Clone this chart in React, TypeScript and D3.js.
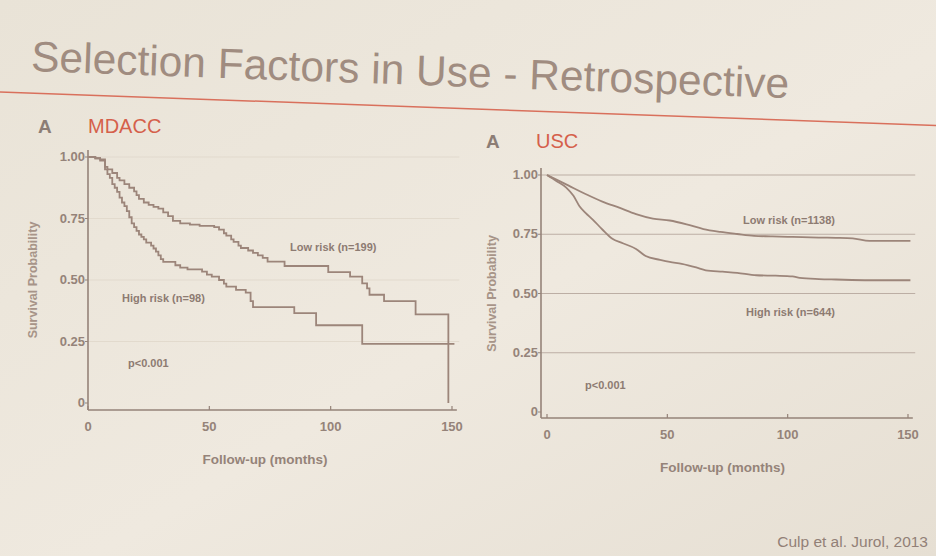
import React, { useEffect, useRef } from 'react';
import * as d3 from 'd3';

// survival curves: [months, probability]
const mdaccLow: [number, number][] = [
  [0, 1], [3, 0.995], [5, 0.985], [7, 0.96], [8, 0.95], [10, 0.935], [12, 0.915], [13, 0.905],
  [15, 0.89], [17, 0.875], [19, 0.86], [20, 0.845], [21, 0.83], [23, 0.815], [25, 0.805],
  [27, 0.797], [29, 0.79], [31, 0.775], [33, 0.76], [35, 0.74], [38, 0.73], [42, 0.725],
  [46, 0.72], [52, 0.715], [54, 0.705], [56, 0.69], [57, 0.68], [59, 0.665], [60, 0.655],
  [62, 0.64], [63, 0.63], [66, 0.62], [68, 0.61], [70, 0.6], [72, 0.59], [74, 0.575],
  [81, 0.557], [99, 0.532], [108, 0.514], [113, 0.486], [115, 0.466], [116, 0.44],
  [122, 0.414], [135, 0.36], [148.5, 0],
];
const mdaccHigh: [number, number][] = [
  [0, 1], [3, 0.995], [5, 0.99], [7, 0.95], [8, 0.93], [9, 0.915], [10, 0.89], [11, 0.875],
  [12, 0.858], [13, 0.835], [14, 0.815], [15, 0.8], [16, 0.78], [17, 0.755], [18, 0.73],
  [19, 0.715], [20, 0.7], [21, 0.685], [22, 0.675], [23, 0.665], [24, 0.652], [26, 0.64],
  [27, 0.628], [28, 0.615], [29, 0.6], [30, 0.585], [31, 0.574], [36, 0.56], [38, 0.55],
  [41, 0.543], [47, 0.534], [49, 0.522], [51, 0.514], [54, 0.5], [56, 0.485], [57, 0.473],
  [61, 0.46], [65, 0.449], [67, 0.414], [68, 0.39], [85, 0.365], [94, 0.316], [113, 0.24],
  [151, 0.24],
];
const uscLow: [number, number][] = [
  [0, 1], [5, 0.975], [9, 0.955], [16, 0.92], [23, 0.888], [30, 0.862], [37, 0.835],
  [44, 0.816], [51, 0.808], [58, 0.792], [65, 0.772], [72, 0.76], [79, 0.751], [86, 0.743],
  [93, 0.741], [100, 0.739], [106, 0.738], [113, 0.736], [120, 0.735], [127, 0.733],
  [134, 0.722], [151, 0.722],
];
const uscHigh: [number, number][] = [
  [0, 1], [4, 0.974], [8, 0.947], [11, 0.912], [13.5, 0.868], [16, 0.84], [19, 0.812],
  [23, 0.77], [27, 0.732], [31.5, 0.712], [37, 0.688], [41, 0.658], [47, 0.642], [51, 0.633],
  [56, 0.625], [62, 0.61], [66, 0.598], [73, 0.592], [79, 0.587], [87, 0.577], [95, 0.575],
  [102, 0.572], [105, 0.566], [113, 0.561], [120, 0.559], [134, 0.556], [151, 0.556],
];

const xTicks = [0, 50, 100, 150];
const yTicks = [0, 0.25, 0.5, 0.75, 1];
const yTickLabels = ['0', '0.25', '0.50', '0.75', '1.00'];

const INK = '#958379';
const CURVE = '#9c857a';
const RED = '#d5604b';
const FONT = '"Liberation Sans", Arial, sans-serif';
const NARROW = '"Liberation Sans Narrow", "Arial Narrow", "Liberation Sans", sans-serif';

interface PanelSpec {
  label: string;
  low: [number, number][];
  high: [number, number][];
  lowText: string;
  highText: string;
  stepped: boolean;
  x0: number; x1: number; y0: number; y1: number;
  axisGapX: number; axisGapY: number;
  grid: string;
  lowPos: [number, number];
  highPos: [number, number];
  pPos: [number, number];
  headY: number;
  headX: number;
  yLabelX: number;
}

const panels: PanelSpec[] = [
  {
    label: 'MDACC', low: mdaccLow, high: mdaccHigh,
    lowText: 'Low risk (n=199)', highText: 'High risk (n=98)', stepped: true,
    x0: 88, x1: 452, y0: 403, y1: 157, axisGapX: 0, axisGapY: 7,
    grid: '#e2dacd',
    lowPos: [290, 251], highPos: [122, 302], pPos: [128, 367],
    headY: 133, headX: 38, yLabelX: 37,
  },
  {
    label: 'USC', low: uscLow, high: uscHigh,
    lowText: 'Low risk (n=1138)', highText: 'High risk (n=644)', stepped: false,
    x0: 547, x1: 908, y0: 412, y1: 175, axisGapX: 6, axisGapY: 6,
    grid: '#bcaea4',
    lowPos: [743, 224], highPos: [746, 316], pPos: [585, 389],
    headY: 148, headX: 486, yLabelX: 496,
  },
];

const App: React.FC = () => {
  const ref = useRef<SVGSVGElement | null>(null);

  useEffect(() => {
    if (!ref.current) return;
    const svg = d3.select(ref.current);
    svg.selectAll('*').remove();

    const defs = svg.append('defs');
    const grad = defs.append('linearGradient').attr('id', 'bg')
      .attr('x1', '0').attr('y1', '0').attr('x2', '1').attr('y2', '1');
    grad.append('stop').attr('offset', '0%').attr('stop-color', '#e9e3d7');
    grad.append('stop').attr('offset', '55%').attr('stop-color', '#efe9df');
    grad.append('stop').attr('offset', '100%').attr('stop-color', '#e6dfd3');
    svg.append('rect').attr('width', 936).attr('height', 556).attr('fill', 'url(#bg)');

    // title + red rule (slide photographed at a slight angle)
    const head = svg.append('g').attr('transform', 'rotate(2.05 0 92)');
    head.append('text')
      .attr('x', 30).attr('y', 70)
      .attr('font-family', FONT).attr('font-size', 42.5)
      .attr('fill', '#a08c80')
      .text('Selection Factors in Use - Retrospective');
    head.append('line')
      .attr('x1', -10).attr('x2', 960).attr('y1', 92).attr('y2', 92)
      .attr('stroke', '#d9705c').attr('stroke-width', 1.5);

    panels.forEach((p) => {
      const x = d3.scaleLinear().domain([0, 150]).range([p.x0, p.x1]);
      const y = d3.scaleLinear().domain([0, 1]).range([p.y0, p.y1]);
      const g = svg.append('g');
      const axisX = x(0) - p.axisGapX;
      const axisY = y(0) + p.axisGapY;

      // panel heading
      g.append('text').attr('x', p.headX).attr('y', p.headY)
        .attr('font-family', FONT).attr('font-weight', 'bold').attr('font-size', 19)
        .attr('fill', '#8c7d75').text('A');
      g.append('text').attr('x', p.headX + 50).attr('y', p.headY)
        .attr('font-family', NARROW).attr('font-size', 20)
        .attr('fill', RED).text(p.label);

      // gridlines
      g.selectAll('line.grid').data(yTicks.filter((t) => t > 0)).join('line')
        .attr('class', 'grid')
        .attr('x1', axisX).attr('x2', x(153))
        .attr('y1', (d) => y(d)).attr('y2', (d) => y(d))
        .attr('stroke', p.grid).attr('stroke-width', 1.2);

      // axes
      g.append('line').attr('x1', axisX).attr('x2', axisX)
        .attr('y1', y(1) - 7).attr('y2', axisY)
        .attr('stroke', INK).attr('stroke-width', 1.6);
      g.append('line').attr('x1', axisX).attr('x2', x(152))
        .attr('y1', axisY).attr('y2', axisY)
        .attr('stroke', INK).attr('stroke-width', 1.6);
      g.selectAll('line.xt').data(xTicks).join('line').attr('class', 'xt')
        .attr('x1', (d) => x(d)).attr('x2', (d) => x(d))
        .attr('y1', axisY - 4).attr('y2', axisY)
        .attr('stroke', INK).attr('stroke-width', 1.2);
      g.selectAll('line.yt').data(yTicks).join('line').attr('class', 'yt')
        .attr('x1', axisX - 3).attr('x2', axisX)
        .attr('y1', (d) => y(d)).attr('y2', (d) => y(d))
        .attr('stroke', INK).attr('stroke-width', 1);

      g.selectAll('text.xl').data(xTicks).join('text').attr('class', 'xl')
        .attr('x', (d) => x(d)).attr('y', axisY + 21)
        .attr('text-anchor', 'middle')
        .attr('font-family', FONT).attr('font-weight', 'bold').attr('font-size', 13)
        .attr('fill', INK).text((d) => String(d));
      g.selectAll('text.yl').data(yTicks).join('text').attr('class', 'yl')
        .attr('x', axisX - 3).attr('y', (d) => y(d) + 4)
        .attr('text-anchor', 'end')
        .attr('font-family', FONT).attr('font-weight', 'bold').attr('font-size', 13)
        .attr('fill', INK).text((d, i) => yTickLabels[i]);

      g.append('text')
        .attr('x', (x(0) + x(150)) / 2 - 5).attr('y', axisY + 54)
        .attr('text-anchor', 'middle')
        .attr('font-family', FONT).attr('font-weight', 'bold').attr('font-size', 13.5)
        .attr('fill', INK).text('Follow-up (months)');
      g.append('text')
        .attr('transform', `translate(${p.yLabelX},${(y(0) + y(1)) / 2}) rotate(-90)`)
        .attr('text-anchor', 'middle')
        .attr('font-family', FONT).attr('font-weight', 'bold').attr('font-size', 12.5)
        .attr('fill', '#a79488').text('Survival Probability');

      // curves
      const line = d3.line<[number, number]>()
        .x((d) => x(d[0])).y((d) => y(d[1]))
        .curve(p.stepped ? d3.curveStepAfter : d3.curveMonotoneX);
      [p.low, p.high].forEach((s) => {
        g.append('path').attr('d', line(s) || '')
          .attr('fill', 'none').attr('stroke', CURVE).attr('stroke-width', 1.8);
      });

      const note = (pos: [number, number], t: string) =>
        g.append('text').attr('x', pos[0]).attr('y', pos[1])
          .attr('font-family', FONT).attr('font-weight', 'bold').attr('font-size', 11)
          .attr('fill', '#8d7b72').text(t);
      note(p.lowPos, p.lowText);
      note(p.highPos, p.highText);
      note(p.pPos, 'p<0.001');
    });

    svg.append('text').attr('x', 928).attr('y', 547)
      .attr('text-anchor', 'end')
      .attr('font-family', FONT).attr('font-size', 15.5)
      .attr('fill', '#928077').text('Culp et al. Jurol, 2013');
  }, []);

  return (
    <svg
      ref={ref}
      width={936}
      height={556}
      style={{ position: 'absolute', left: 0, top: 0, display: 'block' }}
    />
  );
};

export default App;
